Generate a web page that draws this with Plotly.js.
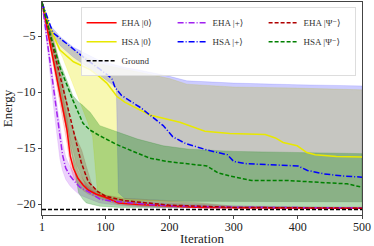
<!DOCTYPE html>
<html>
<head>
<meta charset="utf-8">
<script src="https://cdn.plot.ly/plotly-3.0.1.min.js"></script>
<style>html,body{margin:0;padding:0;background:#fff;}#chart{width:374px;height:246px;}</style>
</head>
<body>
<div id="chart"></div>
<script>
// ---- data ----
const seriesNames = ["EHA |0⟩", "HSA |0⟩", "EHA |+⟩", "HSA |+⟩", "EHA |Ψ⁻⟩", "HSA |Ψ⁻⟩"];
const groundLabel = "Ground";
const groundEnergy = -20.5;
const xTicks = [1, 100, 200, 300, 400, 500];
const yTicks = [-5, -10, -15, -20];

// EHA |0>
const ehaZeroIt   = [1, 10, 20, 30, 35, 40, 45, 50, 57, 65, 73, 85, 100, 120, 150, 200, 250, 300, 400, 500];
const ehaZeroMean = [-2, -4.6, -7.5, -10.4, -11.9, -13.4, -15.7, -16.8, -17.7, -18.3, -18.75, -19.1, -19.4, -19.9, -20.05, -20.2, -20.3, -20.33, -20.36, -20.38];
const ehaZeroHi   = [-2, -4.0, -6.6, -9.4, -10.8, -12.2, -14.4, -15.8, -17.0, -17.8, -18.3, -18.8, -19.2, -19.7, -19.9, -20.1, -20.2, -20.28, -20.32, -20.34];
const ehaZeroLo   = [-2, -5.2, -8.4, -11.4, -13.0, -14.6, -16.6, -17.6, -18.3, -18.8, -19.1, -19.4, -19.7, -20.05, -20.2, -20.3, -20.36, -20.38, -20.4, -20.4];

// HSA |0>
const hsaZeroIt   = [1, 10, 20, 29, 50, 76, 90, 102, 110, 118, 130, 143, 169, 216, 255, 294, 349, 365, 377, 399, 414, 427, 460, 500];
const hsaZeroMean = [-2, -3.6, -5.1, -6.25, -7.3, -8.0, -8.6, -9.2, -9.8, -10.4, -10.9, -11.3, -12.05, -12.7, -13.5, -13.7, -13.8, -14.1, -14.5, -14.8, -15.4, -15.6, -15.75, -15.8];
const hsaZeroBandIt = [1, 13, 33, 50, 73, 80, 84, 88, 100, 150, 200, 227, 300, 400, 500];
const hsaZeroHi   = [-2, -4.2, -5.4, -6.2, -7.0, -7.2, -7.3, -7.4, -7.6, -8.2, -8.8, -9.3, -9.55, -9.65, -9.8];
const hsaZeroLo   = [-2, -4.6, -6.9, -9.5, -12.8, -14.0, -16.5, -19.3, -19.6, -19.7, -19.75, -19.8, -19.8, -19.8, -19.8];

// EHA |+>
const ehaPlusIt   = [1, 10, 20, 23, 29, 33, 38, 45, 52, 60, 73, 91, 110, 138, 180, 227, 300, 400, 500];
const ehaPlusMean = [-2, -5.9, -10.3, -11.6, -14.1, -15.6, -16.8, -17.5, -18.0, -18.5, -18.9, -19.55, -19.75, -19.9, -20.1, -20.2, -20.28, -20.32, -20.35];
const ehaPlusHi   = [-2, -5.4, -9.4, -10.6, -13.0, -14.5, -15.8, -16.7, -17.3, -17.9, -18.5, -19.25, -19.5, -19.7, -19.9, -20.0, -20.15, -20.25, -20.3];
const ehaPlusLo   = [-2, -6.4, -11.8, -13.4, -16.0, -17.0, -17.8, -18.4, -18.8, -19.2, -19.5, -19.9, -20.05, -20.2, -20.3, -20.35, -20.38, -20.4, -20.4];

// HSA |+>
const hsaPlusIt   = [1, 18, 40, 70, 90, 110, 115, 125, 155, 175, 190, 205, 225, 260, 290, 300, 320, 400, 415, 440, 470, 500];
const hsaPlusMean = [-2, -4.7, -5.7, -7.1, -7.9, -8.8, -9.6, -10.3, -11.4, -12.3, -13.0, -14.0, -14.6, -15.2, -15.6, -16.2, -16.4, -16.6, -17.0, -17.3, -17.5, -17.6];
const hsaPlusBandIt = [1, 13, 30, 50, 91, 110, 117, 120, 130, 150, 200, 227, 300, 400, 500];
const hsaPlusHi   = [-2, -4.0, -5.1, -6.0, -7.2, -7.5, -7.6, -7.7, -7.8, -8.0, -8.6, -9.0, -9.2, -9.35, -9.45];
const hsaPlusLo   = [-2, -4.6, -5.9, -6.9, -8.5, -9.3, -9.7, -19.0, -19.5, -19.6, -19.7, -19.75, -19.8, -19.8, -19.8];

// EHA |Psi->
const ehaPsiIt    = [1, 10, 20, 30, 42, 52, 62, 73, 88, 100, 130, 200, 300, 500];
const ehaPsiMean  = [-2, -4.1, -6.45, -8.8, -11.6, -14.1, -16.25, -18.0, -18.9, -19.3, -19.7, -20.1, -20.3, -20.38];
const ehaPsiBandIt = [1, 10, 21, 30, 40, 45, 55, 63, 70, 79, 90, 100, 130, 200, 250, 300, 500];
const ehaPsiHi    = [-2, -3.5, -5.6, -8.0, -11.0, -12.8, -14.2, -15.2, -16.6, -18.3, -18.9, -19.2, -19.5, -19.7, -19.9, -20.2, -20.3];
const ehaPsiLo    = [-2, -5.0, -8.0, -10.5, -13.0, -14.2, -16.5, -17.5, -18.5, -19.0, -19.3, -19.5, -19.8, -20.2, -20.3, -20.35, -20.4];

// HSA |Psi->
const hsaPsiIt    = [1, 13, 29, 49, 65, 76, 91, 118, 143, 169, 196, 227, 258, 275, 294, 328, 383, 445, 477, 500];
const hsaPsiMean  = [-2, -4.7, -7.8, -10.7, -12.8, -13.4, -13.9, -14.7, -15.3, -15.9, -16.2, -16.4, -16.6, -17.2, -17.5, -17.9, -17.9, -18.1, -18.2, -18.5];
const hsaPsiBandIt = [1, 10, 13, 20, 29, 40, 49, 58, 65, 70, 76, 91, 122, 150, 190, 230, 300, 400, 500];
const hsaPsiHi    = [-2, -3.8, -4.4, -5.6, -7.4, -9.0, -10.3, -10.9, -11.2, -11.5, -11.8, -13.0, -13.6, -14.2, -14.8, -15.1, -15.3, -15.4, -15.5];
const hsaPsiLo    = [-2, -4.5, -5.4, -7.5, -10.5, -13.5, -16.0, -19.0, -19.6, -19.9, -20.0, -20.2, -20.3, -20.3, -20.3, -20.3, -20.3, -20.3, -20.3];

// ---- styles ----
const colors = {
  ehaZero: "#ff0000", hsaZero: "#e8e800", ehaPlus: "#a020f0",
  hsaPlus: "#0000ff", ehaPsi: "#b00000", hsaPsi: "#008000"
};
function rgba(hex, a) {
  const n = parseInt(hex.slice(1), 16);
  return `rgba(${(n >> 16) & 255},${(n >> 8) & 255},${n & 255},${a})`;
}
function band(x, lo, hi, color, alpha) {
  return {
    x: x.concat(x.slice().reverse()),
    y: hi.concat(lo.slice().reverse()),
    type: "scatter", mode: "lines", fill: "toself",
    fillcolor: rgba(color, alpha),
    line: { width: 0.6, color: rgba(color, alpha) },
    showlegend: false, hoverinfo: "skip"
  };
}
function line(x, y, name, color, dash, rank) {
  return {
    x: x, y: y, type: "scatter", mode: "lines", name: name,
    line: { color: color, width: 1.5, dash: dash },
    legendrank: rank
  };
}

const traces = [
  band(ehaZeroIt, ehaZeroLo, ehaZeroHi, colors.ehaZero, 0.2),
  band(hsaZeroBandIt, hsaZeroLo, hsaZeroHi, colors.hsaZero, 0.3),
  band(ehaPlusIt, ehaPlusLo, ehaPlusHi, colors.ehaPlus, 0.2),
  band(hsaPlusBandIt, hsaPlusLo, hsaPlusHi, colors.hsaPlus, 0.2),
  band(ehaPsiBandIt, ehaPsiLo, ehaPsiHi, colors.ehaPsi, 0.2),
  band(hsaPsiBandIt, hsaPsiLo, hsaPsiHi, colors.hsaPsi, 0.3),
  line(ehaZeroIt, ehaZeroMean, seriesNames[0], colors.ehaZero, "solid", 1),
  line(hsaZeroIt, hsaZeroMean, seriesNames[1], colors.hsaZero, "solid", 4),
  line([1, 500], [groundEnergy, groundEnergy], groundLabel, "#000000", "4px,2px", 7),
  line(ehaPlusIt, ehaPlusMean, seriesNames[2], colors.ehaPlus, "6px,2px,1px,2px", 2),
  line(hsaPlusIt, hsaPlusMean, seriesNames[3], colors.hsaPlus, "6px,2px,1px,2px", 5),
  line(ehaPsiIt, ehaPsiMean, seriesNames[4], colors.ehaPsi, "4px,2px", 3),
  line(hsaPsiIt, hsaPsiMean, seriesNames[5], colors.hsaPsi, "4px,2px", 6)
];

const serif = "Liberation Serif, DejaVu Serif, serif";
const layout = {
  width: 374, height: 246,
  margin: { l: 42, r: 12, t: 2, b: 31 },
  paper_bgcolor: "#ffffff", plot_bgcolor: "#ffffff",
  font: { family: serif, size: 12, color: "#222" },
  showlegend: true,
  legend: {
    orientation: "h", x: 0.98, xanchor: "right", y: 0.975, yanchor: "top",
    bgcolor: "rgba(255,255,255,0.8)", bordercolor: "#dddddd", borderwidth: 1,
    font: { family: serif, size: 9, color: "#333" },
    entrywidth: 46, tracegroupgap: 0, itemwidth: 30
  },
  xaxis: {
    range: [1, 500], tickvals: xTicks, ticktext: xTicks.map(String),
    showgrid: false, zeroline: false, showline: true, mirror: true,
    linecolor: "#444", linewidth: 1, ticks: "outside", ticklen: 3, tickcolor: "#444",
    ticklabelstandoff: -2,
    tickfont: { family: serif, size: 12, color: "#222" },
    title: { text: "Iteration", font: { family: serif, size: 13, color: "#222" }, standoff: 0 }
  },
  yaxis: {
    range: [-20.98, -1.96], tickvals: yTicks,
    showgrid: false, zeroline: false, showline: true, mirror: true,
    linecolor: "#444", linewidth: 1, ticks: "outside", ticklen: 3, tickcolor: "#444",
    tickfont: { family: serif, size: 12, color: "#222" },
    title: { text: "Energy", font: { family: serif, size: 13, color: "#222" }, standoff: 4 }
  }
};

Plotly.newPlot("chart", traces, layout, { staticPlot: true, displayModeBar: false });
</script>
</body>
</html>
